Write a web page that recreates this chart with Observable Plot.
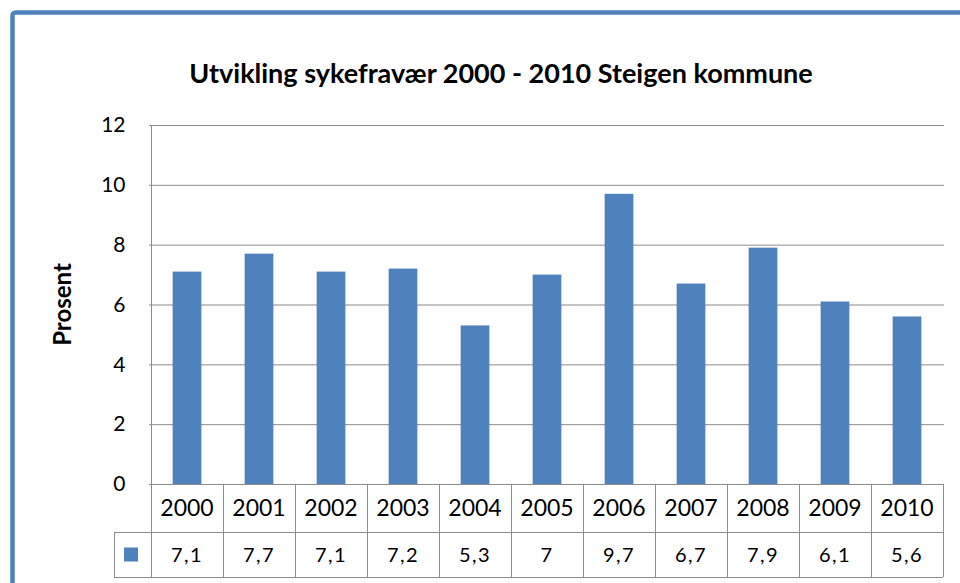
<!DOCTYPE html>
<html>
<head>
<meta charset="utf-8">
<script src="https://cdn.jsdelivr.net/npm/d3@7"></script>
<script src="https://cdn.jsdelivr.net/npm/@observablehq/plot@0.6"></script>
<style>
  html, body { margin: 0; padding: 0; background: #fff; }
  #chart { width: 960px; height: 583px; overflow: hidden; }
</style>
</head>
<body>
<div id="chart"></div>
<script>
const title = "Utvikling sykefravær 2000 - 2010 Steigen kommune";
const yLabel = "Prosent";
const years = ["2000","2001","2002","2003","2004","2005","2006","2007","2008","2009","2010"];
const values = [7.1, 7.7, 7.1, 7.2, 5.3, 7, 9.7, 6.7, 7.9, 6.1, 5.6];
const valueLabels = ["7,1","7,7","7,1","7,2","5,3","7","9,7","6,7","7,9","6,1","5,6"];
const yTicks = [0, 2, 4, 6, 8, 10, 12];

const barColor = "#4F81BD";
const gridColor = "#8C8C8C";
const font = "Lato, 'Open Sans', sans-serif";

const data = years.map((y, i) => ({year: y, value: values[i], label: valueLabels[i]}));

const W = 960, H = 583;
const mL = 149, mR = 16, mT = 125, mB = 99;
const barW = 29;
const bandW = (W - mL - mR) / years.length;

const chart = Plot.plot({
  width: W, height: H,
  marginLeft: mL, marginRight: mR, marginTop: mT, marginBottom: mB,
  style: {fontFamily: font, background: "transparent", overflow: "visible"},
  x: {domain: years, padding: 0, axis: null},
  y: {domain: [0, 12], axis: null},
  marks: [
    Plot.gridY(yTicks, {stroke: gridColor, strokeOpacity: 1, strokeWidth: 1}),
    Plot.axisY(yTicks, {tickSize: 0, tickPadding: 24, label: null, fontSize: 21, fill: "#000", textAnchor: "end"}),
    Plot.barY(data, {x: "year", y: "value", fill: barColor,
      insetLeft: (bandW - barW) / 2, insetRight: (bandW - barW) / 2})
  ]
});

const svg = d3.select(chart);
const xs = chart.scale("x");
const ys = chart.scale("y");
const bw = xs.bandwidth;
const y0 = ys.apply(0);
const y12 = ys.apply(12);
const x0 = xs.apply(years[0]);
const xEnd = xs.apply(years[years.length - 1]) + bw;
const row1 = y0 + 48;
const row2 = row1 + 45;
const legendLeft = x0 - 37;

const g = svg.append("g").attr("fill", "none").attr("stroke", gridColor).attr("stroke-width", 1).attr("shape-rendering", "crispEdges");
// y axis line
g.append("line").attr("x1", x0).attr("x2", x0).attr("y1", y12).attr("y2", row2);
// table horizontal lines
g.append("line").attr("x1", x0).attr("x2", xEnd).attr("y1", y0).attr("y2", y0);
g.append("line").attr("x1", legendLeft).attr("x2", xEnd).attr("y1", row1).attr("y2", row1);
g.append("line").attr("x1", legendLeft).attr("x2", xEnd).attr("y1", row2).attr("y2", row2);
g.append("line").attr("x1", legendLeft).attr("x2", legendLeft).attr("y1", row1).attr("y2", row2);
years.forEach(yr => {
  const xr = xs.apply(yr) + bw;
  g.append("line").attr("x1", xr).attr("x2", xr).attr("y1", y0).attr("y2", row2);
});

const t = svg.append("g").attr("font-family", font).attr("fill", "#000").attr("text-anchor", "middle");
data.forEach(d => {
  const cx = xs.apply(d.year) + bw / 2;
  t.append("text").attr("x", cx).attr("y", (y0 + row1) / 2).attr("dy", "0.36em")
    .attr("font-size", 23).text(d.year);
  t.append("text").attr("x", cx).attr("y", (row1 + row2) / 2).attr("dy", "0.36em")
    .attr("font-size", 20).attr("letter-spacing", "1.5px").text(d.label);
});
// legend key
svg.append("rect").attr("x", legendLeft + 10).attr("y", (row1 + row2) / 2 - 7)
  .attr("width", 14).attr("height", 14).attr("fill", barColor);

// title
svg.append("text").attr("x", 501).attr("y", 83).attr("text-anchor", "middle")
  .attr("font-family", font).attr("font-weight", "bold").attr("font-size", 27).attr("fill", "#000").text(title);
// y label
svg.append("text").attr("transform", `translate(71, ${(y0 + y12) / 2}) rotate(-90)`)
  .attr("text-anchor", "middle").attr("font-family", font).attr("font-weight", "bold")
  .attr("font-size", 24).attr("fill", "#000").text(yLabel);

// outer border (cropped chart frame)
svg.append("rect").attr("x", 12.5).attr("y", 12.5).attr("width", 1200).attr("height", 1200).attr("rx", 3)
  .attr("fill", "none").attr("stroke", barColor).attr("stroke-width", 4.5);

document.getElementById("chart").appendChild(chart);
</script>
</body>
</html>
